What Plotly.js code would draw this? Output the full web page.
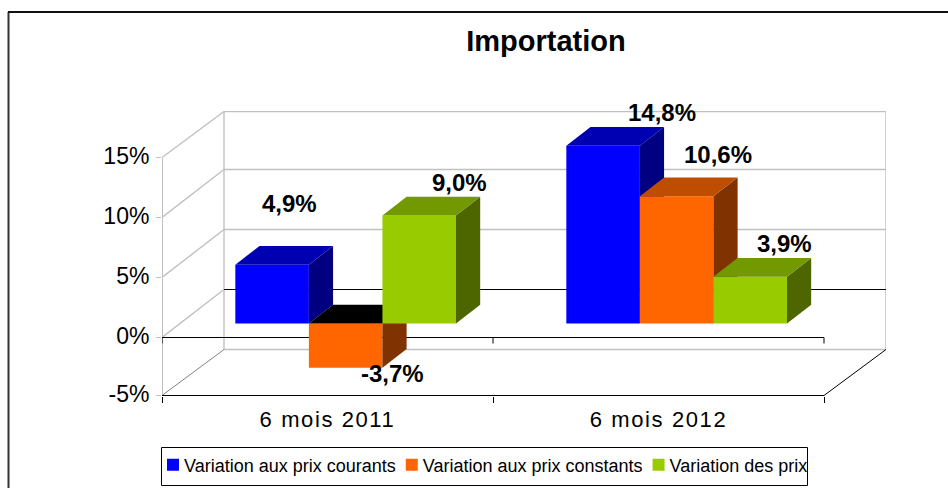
<!DOCTYPE html>
<html><head><meta charset="utf-8">
<script src="https://cdn.plot.ly/plotly-3.0.1.min.js"></script>
<style>
html,body{margin:0;padding:0;background:#fff;overflow:hidden}
#c{width:948px;height:488px}
.xtick text{letter-spacing:1.6px}
</style></head><body><div id="c"></div>
<script>
const categories = ['6 mois 2011', '6 mois 2012'];
const seriesNames = ['Variation aux prix courants', 'Variation aux prix constants', 'Variation des prix'];
const valuesCourants = [4.9, 14.8];
const valuesConstants = [-3.7, 10.6];
const valuesPrix = [9.0, 3.9];
const yTickLabels = ['-5%', '0%', '5%', '10%', '15%'];
const yTickPositions = [-4.833, 0, 5, 10, 15];
const frontColors = ['#0000FF', '#FF6600', '#99CC00'];
const topColors = ['#0000B3', '#BF4D00', '#739900'];
const sideColors = ['#000080', '#803300', '#4D6600'];
const negativeTopColor = '#000000';

// oblique projection: depth 0 = front plane, depth 1 = back wall
const DX = 0.1873, DY = 4, X_MAX = 2, FLOOR = -4.833, TOP = 15;
const BACK_FLOOR = -1, BACK_TOP = 18.83;
const BAR_W = 1 / 4.5, D0 = 0.293, D1 = 0.683;
const Y_MIN = -4.875, Y_MAX = 18.875;
const px = (x, d) => x + d * DX;
const py = (v, d) => v + d * DY;

function lineTrace(segs, color, width) {
  const x = [], y = [];
  segs.forEach(s => { x.push(s[0], s[2], null); y.push(s[1], s[3], null); });
  return {type:'scatter', mode:'lines', x, y, showlegend:false, hoverinfo:'skip',
          line:{color, width}, xaxis:'x', yaxis:'y'};
}
const traces = [];
const backX = px(0, 1), backXR = px(X_MAX, 1);
traces.push(lineTrace([
  [backX, py(5,1), backXR, py(5,1)],
  [backX, py(10,1), backXR, py(10,1)],
  [backX, BACK_TOP, backXR, BACK_TOP],
  [0, 0, backX, py(0,1)], [0, 5, backX, py(5,1)], [0, 10, backX, py(10,1)], [0, TOP, backX, BACK_TOP],
  [backX, BACK_FLOOR, backXR, BACK_FLOOR],
  [backX, BACK_FLOOR, backX, BACK_TOP],
  [backXR, BACK_FLOOR, backXR, BACK_TOP]
], '#C0C0C0', 1.4));
traces.push(lineTrace([[0, FLOOR, 0, TOP]], '#C0C0C0', 2));
traces.push(lineTrace([[0, FLOOR, backX, BACK_FLOOR]], '#808080', 1));
traces.push(lineTrace([
  [backX, py(0,1), backXR, py(0,1)],
  [0, 0, X_MAX, 0],
  [0, FLOOR, X_MAX, FLOOR],
  [X_MAX, FLOOR, backXR, BACK_FLOOR],
  [0, 0, 0, -0.5], [1, 0, 1, -0.5], [2, 0, 2, -0.5]
], '#000000', 1));

const allValues = [valuesCourants, valuesConstants, valuesPrix];
const annotations = [];
const labelShift = [[[17.5, 61.5], [59, 33.5]], [[47, -5.5], [41.5, 41.5]], [[40, 33], [34, 33.2]]];
const layoutAxes = {};
allValues.forEach((vals, s) => {
  const n = s + 2, xa = 'x' + n, ya = 'y' + n;
  layoutAxes['xaxis' + n] = {overlaying:'x', range:[0, X_MAX + DX], visible:false, fixedrange:true};
  layoutAxes['yaxis' + n] = {overlaying:'y', range:[Y_MIN, Y_MAX], visible:false, fixedrange:true};
  const lefts = vals.map((v, c) => c + 0.5 + (s - 1.5) * BAR_W);
  const centers = lefts.map(l => px(l + BAR_W / 2, D0));
  traces.push({type:'bar', name:seriesNames[s], x:centers, y:vals, base:vals.map(() => py(0, D0)),
    width:BAR_W, marker:{color:frontColors[s], line:{width:0}}, hoverinfo:'skip', xaxis:xa, yaxis:ya});
  vals.forEach((v, c) => {
    const l = lefts[c], r = l + BAR_W;
    const hi = Math.max(v, 0), lo = Math.min(v, 0);
    traces.push({type:'scatter', mode:'lines', fill:'toself', showlegend:false, hoverinfo:'skip',
      x:[px(r,D0), px(r,D1), px(r,D1), px(r,D0), px(r,D0)],
      y:[py(lo,D0), py(lo,D1), py(hi,D1), py(hi,D0), py(lo,D0)],
      fillcolor:sideColors[s], line:{width:0, color:sideColors[s]}, xaxis:xa, yaxis:ya});
    const tc = v < 0 ? negativeTopColor : topColors[s];
    traces.push({type:'scatter', mode:'lines', fill:'toself', showlegend:false, hoverinfo:'skip',
      x:[px(l,D0), px(l,D1), px(r,D1), px(r,D0), px(l,D0)],
      y:[py(hi,D0), py(hi,D1), py(hi,D1), py(hi,D0), py(hi,D0)],
      fillcolor:tc, line:{width:0, color:tc}, xaxis:xa, yaxis:ya});
    annotations.push({xref:'x', yref:'y', x:centers[c], y:py(v, D0), text:v.toFixed(1).replace('.', ',') + '%',
      showarrow:false, xanchor:'center', yanchor:'middle', xshift:labelShift[s][c][0], yshift:labelShift[s][c][1],
      font:{family:'Liberation Sans, Arial, sans-serif', size:24, color:'#000', weight:700}});
  });
});

const T = 111, B = 92, L = 162, R = 62, PW = 948 - L - R, PH = 488 - T - B;
const fx = p => (p - L) / PW, fy = p => (488 - B - p) / PH;
const layout = Object.assign({
  width:948, height:488, margin:{l:L, r:R, t:T, b:B, autoexpand:false}, paper_bgcolor:'#fff', plot_bgcolor:'#fff',
  barmode:'overlay', hovermode:false, dragmode:false,
  font:{family:'Liberation Sans, Arial, sans-serif', color:'#000'},
  title:{text:'<b>Importation</b>', xref:'paper', x:fx(546), xanchor:'center', yref:'container', y:1 - 41 / 488, yanchor:'middle',
         font:{size:29, color:'#000', family:'Liberation Sans, Arial, sans-serif'}},
  xaxis:{range:[0, X_MAX + DX], tickmode:'array', tickvals:[0.5, 1.5], ticktext:categories, ticks:'', showgrid:false,
         zeroline:false, showline:false, fixedrange:true, tickfont:{size:22, color:'#000'}, ticklabelstandoff:8,
         minor:{tickmode:'array', tickvals:[0, 1, 2], ticks:'outside', ticklen:6, tickwidth:1, tickcolor:'#000', showgrid:false}},
  yaxis:{range:[Y_MIN, Y_MAX], tickmode:'array', tickvals:yTickPositions, ticktext:yTickLabels, ticks:'outside', ticklen:5, tickwidth:1, tickcolor:'#C0C0C0', showgrid:false,
         zeroline:false, showline:false, fixedrange:true, tickfont:{size:23, color:'#000'}, ticklabelstandoff:2},
  legend:{orientation:'h', x:fx(159), xanchor:'left', y:fy(446.5), yanchor:'top', bgcolor:'rgba(0,0,0,0)', borderwidth:0, indentation:-15,
          font:{size:18, color:'#000'}, itemclick:false, itemdoubleclick:false, traceorder:'normal'},
  annotations,
  shapes:[
    {type:'line', xref:'paper', yref:'paper', x0:fx(8.5), x1:fx(8.5), y0:fy(12), y1:fy(488), line:{color:'#333', width:2}},
    {type:'line', xref:'paper', yref:'paper', x0:fx(8), x1:fx(948), y0:fy(12), y1:fy(12), line:{color:'#111', width:2}},
    {type:'rect', xref:'paper', yref:'paper', x0:fx(161.5), x1:fx(807.5), y0:fy(447.5), y1:fy(485.5), line:{color:'#000', width:1}, fillcolor:'#fff'}
  ]
}, layoutAxes);
Plotly.newPlot('c', traces, layout, {displayModeBar:false}).then(gd => {
  // tighten the legend entries: the original packs swatch and text closer than Plotly's fixed gaps
  const entryShift = [0, -3, -6], swatchShift = 9;
  gd.querySelectorAll('.legend .traces').forEach((g, i) => {
    const m = /translate\(([-\d.]+)[ ,]+([-\d.]+)\)/.exec(g.getAttribute('transform') || '');
    if (m) g.setAttribute('transform', 'translate(' + (+m[1] + entryShift[i]) + ',' + m[2] + ')');
    const lay = g.querySelector('.layers');
    if (lay) {
      const k = /translate\(([-\d.]+)[ ,]+([-\d.]+)\)/.exec(lay.getAttribute('transform') || '');
      lay.setAttribute('transform', 'translate(' + ((k ? +k[1] : 0) + swatchShift) + ',' + (k ? k[2] : 0) + ')');
    }
  });
  const box = gd.querySelector('.legend .scrollbox');
  const clip = box && /url\(["']?#([^"')]+)/.exec(box.getAttribute('clip-path') || '');
  const rect = clip && document.getElementById(clip[1]) && document.getElementById(clip[1]).querySelector('rect');
  if (rect) rect.setAttribute('width', 807.5 - 159);
  // the original's value labels sit slightly above their tick level
  gd.querySelectorAll('.ytick text').forEach(t => {
    t.setAttribute('y', (+t.getAttribute('y') || 0) - 1.5);
  });
});
</script></body></html>
